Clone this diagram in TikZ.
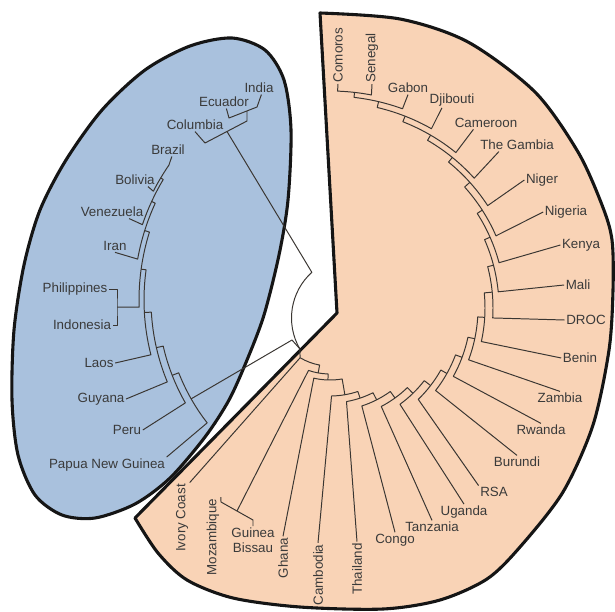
\documentclass[tikz,border=0pt]{standalone}
\usepackage{fontspec}
\setmainfont{Liberation Sans}
\definecolor{sky}{HTML}{A9C1DD}
\definecolor{peach}{HTML}{F9D3B6}
\definecolor{ink}{HTML}{151515}
\definecolor{twig}{HTML}{3A3632}
\definecolor{txt}{HTML}{3A3A3A}
\begin{document}
\begin{tikzpicture}[x=0.025cm,y=-0.025cm,font=\fontsize{9.5}{10.5}\selectfont,text=txt,
 lbl/.style={inner sep=1pt},
 turned/.style={inner sep=1pt,rotate=90},
 twig/.style={draw=twig,line width=.7pt,line join=round},
 rim/.style={draw=ink,line width=2.2pt,line join=round}]
\useasboundingbox (0,0) rectangle (615,611);
\coordinate (Co) at (330,308);
\coordinate (Cb) at (365,300);
\coordinate (Cr) at (353,318);
\path[rim,fill=sky] plot[smooth cycle] coordinates {(232,38) (265,50) (284,80) (291,130) (288,200) (279,255) (264,315) (247,360) (229,400) (205,437) (170,478) (135,504) (95,518) (62,515) (35,495) (18,455) (12,400) (14,330) (24,265) (40,210) (66,160) (102,110) (145,70) (190,46)};
\path[rim,fill=peach] (320,13) -- (337,313) -- (135,518) -- plot[smooth] coordinates {(135,518) (158,553) (187,580) (233,598) (300,607) (383,609) (440,600) (487,579) (520,547) (563,492) (593,425) (609,350) (613,290) (612,240) (602,205) (578,152) (535,92) (468,42) (400,19) (320,13)} -- cycle;
\node[turned] (comoros) at (338,55) {Comoros};
\node[turned] (senegal) at (372,58) {Senegal};
\node[lbl] (gabon) at (408,88) {Gabon};
\node[lbl] (djibouti) at (452,100) {Djibouti};
\node[lbl] (cameroon) at (486,123) {Cameroon};
\node[lbl] (gambia) at (517,145) {The Gambia};
\node[lbl] (niger) at (542,180) {Niger};
\node[lbl] (nigeria) at (566,212) {Nigeria};
\node[lbl] (kenya) at (581,245) {Kenya};
\node[lbl] (mali) at (578,285) {Mali};
\node[lbl] (droc) at (586,320) {DROC};
\node[lbl] (benin) at (580,358) {Benin};
\node[lbl] (zambia) at (560,398) {Zambia};
\node[lbl] (rwanda) at (541,430) {Rwanda};
\node[lbl] (burundi) at (517,462) {Burundi};
\node[lbl] (rsa) at (494,492) {RSA};
\node[lbl] (uganda) at (464,512) {Uganda};
\node[lbl] (tanzania) at (432,527) {Tanzania};
\node[lbl] (congo) at (395,540) {Congo};
\node[turned] (thailand) at (357,569) {Thailand};
\node[turned] (cambodia) at (318,575) {Cambodia};
\node[turned] (ghana) at (283,558) {Ghana};
\node[lbl,align=center] (guinea) at (253,540) {Guinea\\Bissau};
\node[turned] (mozambique) at (213,537) {Mozambique};
\node[turned] (ivory) at (182,518) {Ivory Coast};
\node[lbl] (india) at (259,88) {India};
\node[lbl] (ecuador) at (224,102) {Ecuador};
\node[lbl] (columbia) at (195,125) {Columbia};
\node[lbl] (brazil) at (168,150) {Brazil};
\node[lbl] (bolivia) at (135,180) {Bolivia};
\node[lbl] (venezuela) at (112,212) {Venezuela};
\node[lbl] (iran) at (115,246) {Iran};
\node[lbl] (philippines) at (75,289) {Philippines};
\node[lbl] (indonesia) at (82,325) {Indonesia};
\node[lbl] (laos) at (99,363) {Laos};
\node[lbl] (guyana) at (101,399) {Guyana};
\node[lbl] (peru) at (127,430) {Peru};
\node[lbl] (png) at (107,465) {Papua New Guinea};
\coordinate (rootT) at ([shift={(Cr)}]228:61.5);
\coordinate (rootB) at ([shift={(Cr)}]150:61.5);
\coordinate (kink) at (292,340);
\coordinate (colA) at (205,143);
\coordinate (colB) at (247,121);
\coordinate (colM) at (227,131.5);
\coordinate (ecuA) at (229,118);
\coordinate (indB) at (257,107);
\coordinate (eiM) at (247,111);
\coordinate (pi) at (117,307);
\coordinate (mgA) at (221,502);
\coordinate (mgB) at (253,520);
\coordinate (mg) at (237,511);
\draw[twig] (colM) -- (rootT) arc[start angle=228,end angle=150,radius=61.5] -- ([shift={(Co)}]121:58);
\draw[twig] (rootB) -- (kink) -- ([shift={(Cb)}]150.38:200);
\draw[twig] (columbia.south) -- (colA) -- (colB) -- (eiM);
\draw[twig] (ecuador.-70) -- (ecuA) -- (indB) -- (india.-70);
\draw[twig] (philippines.east) -| (pi) |- (indonesia.east);
\draw[twig] (mozambique.south east) -- (mgA) -- (mgB) -- (guinea.north);
\draw[twig] (png.north east) -- ([shift={(Cb)}]142.1:200) arc[start angle=142.1,end angle=158.66,radius=200] -- ++(158.66:7);
\draw[twig] (peru.east) -- ([shift={(Cb)}]150.2:207) arc[start angle=150.2,end angle=167.13,radius=207] -- ++(167.13:7);
\draw[twig] (guyana.east) -- ([shift={(Cb)}]157.5:214) arc[start angle=157.5,end angle=176.75,radius=214] -- ++(176.75:7);
\draw[twig] (laos.east) -- ([shift={(Cb)}]165.65:221) arc[start angle=165.65,end angle=187.85,radius=221] -- ++(187.85:5);
\draw[twig] (pi) -- ([shift={(Cb)}]178.2:226) arc[start angle=178.2,end angle=197.49,radius=226] -- ++(197.49:5);
\draw[twig] (iran.south) -- ([shift={(Cb)}]190.2:231) arc[start angle=190.2,end angle=204.78,radius=231] -- ++(204.78:4);
\draw[twig] (venezuela.-21) -- ([shift={(Cb)}]198.7:235) arc[start angle=198.7,end angle=210.85,radius=235] -- ++(210.85:3);
\draw[twig] (bolivia.-27) -- ([shift={(Cb)}]207.2:238) arc[start angle=207.2,end angle=214.5,radius=238] -- (brazil.-60);
\draw[twig] (ivory.south east) -- ([shift={(Co)}]121:58) arc[start angle=121,end angle=100.32,radius=58] -- ++(100.32:8);
\draw[twig] (mg) -- ([shift={(Co)}]109:66) arc[start angle=109,end angle=91.64,radius=66] -- ++(91.64:6);
\draw[twig] (ghana.east) -- ([shift={(Co)}]103:72) arc[start angle=103,end angle=80.27,radius=72] -- ++(80.27:16);
\draw[twig] (cambodia.east) -- ([shift={(Co)}]89:88) arc[start angle=89,end angle=71.54,radius=88] -- ++(71.54:7);
\draw[twig] (thailand.east) -- ([shift={(Co)}]80:95) arc[start angle=80,end angle=63.08,radius=95] -- ++(63.08:8);
\draw[twig] (congo.north) -- ([shift={(Co)}]72:103) arc[start angle=72,end angle=54.16,radius=103] -- ++(54.16:8);
\draw[twig] (tanzania.north) -- ([shift={(Co)}]62.5:111) arc[start angle=62.5,end angle=45.81,radius=111] -- ++(45.81:8);
\draw[twig] (uganda.north) -- ([shift={(Co)}]54:119) arc[start angle=54,end angle=37.62,radius=119] -- ++(37.62:8);
\draw[twig] (rsa.north west) -- ([shift={(Co)}]46:127) arc[start angle=46,end angle=29.24,radius=127] -- ++(29.24:7);
\draw[twig] (burundi.north) -- ([shift={(Co)}]38:134) arc[start angle=38,end angle=20.49,radius=134] -- ++(20.49:7);
\draw[twig] (rwanda.north) -- ([shift={(Co)}]29:141) arc[start angle=29,end angle=11.98,radius=141] -- ++(11.98:7);
\draw[twig] (zambia.north) -- ([shift={(Co)}]20.5:148) arc[start angle=20.5,end angle=3.46,radius=148] -- ++(3.46:7);
\draw[twig] (benin.west) -- ([shift={(Co)}]12.5:155) arc[start angle=12.5,end angle=-5.59,radius=155] -- ++(-5.59:8);
\draw[twig] (droc.west) -- ([shift={(Co)}]3.5:163) arc[start angle=3.5,end angle=-14.68,radius=163] -- ++(-14.68:6);
\draw[twig] (mali.west) -- ([shift={(Co)}]-5.5:169) arc[start angle=-5.5,end angle=-23.86,radius=169] -- ++(-23.86:6);
\draw[twig] (kenya.west) -- ([shift={(Co)}]-15:175) arc[start angle=-15,end angle=-32.73,radius=175] -- ++(-32.73:6);
\draw[twig] (nigeria.west) -- ([shift={(Co)}]-23.5:181) arc[start angle=-23.5,end angle=-41.95,radius=181] -- ++(-41.95:7);
\draw[twig] (niger.west) -- ([shift={(Co)}]-33:188) arc[start angle=-33,end angle=-50.91,radius=188] -- ++(-50.91:6);
\draw[twig] (gambia.200) -- ([shift={(Co)}]-42:194) arc[start angle=-42,end angle=-59.81,radius=194] -- ++(-59.81:6);
\draw[twig] (cameroon.207) -- ([shift={(Co)}]-51:200) arc[start angle=-51,end angle=-68.63,radius=200] -- ++(-68.63:6);
\draw[twig] (djibouti.218) -- ([shift={(Co)}]-60.5:206) arc[start angle=-60.5,end angle=-76.75,radius=206] -- ++(-76.75:6);
\draw[twig] (gabon.south) -- ([shift={(Co)}]-70:212) arc[start angle=-70,end angle=-83.5,radius=212] -- ++(-83.5:5);
\draw[twig] (senegal.west) -- ([shift={(Co)}]-79:217) arc[start angle=-79,end angle=-88,radius=217] -- (comoros.west);
\end{tikzpicture}
\end{document}
